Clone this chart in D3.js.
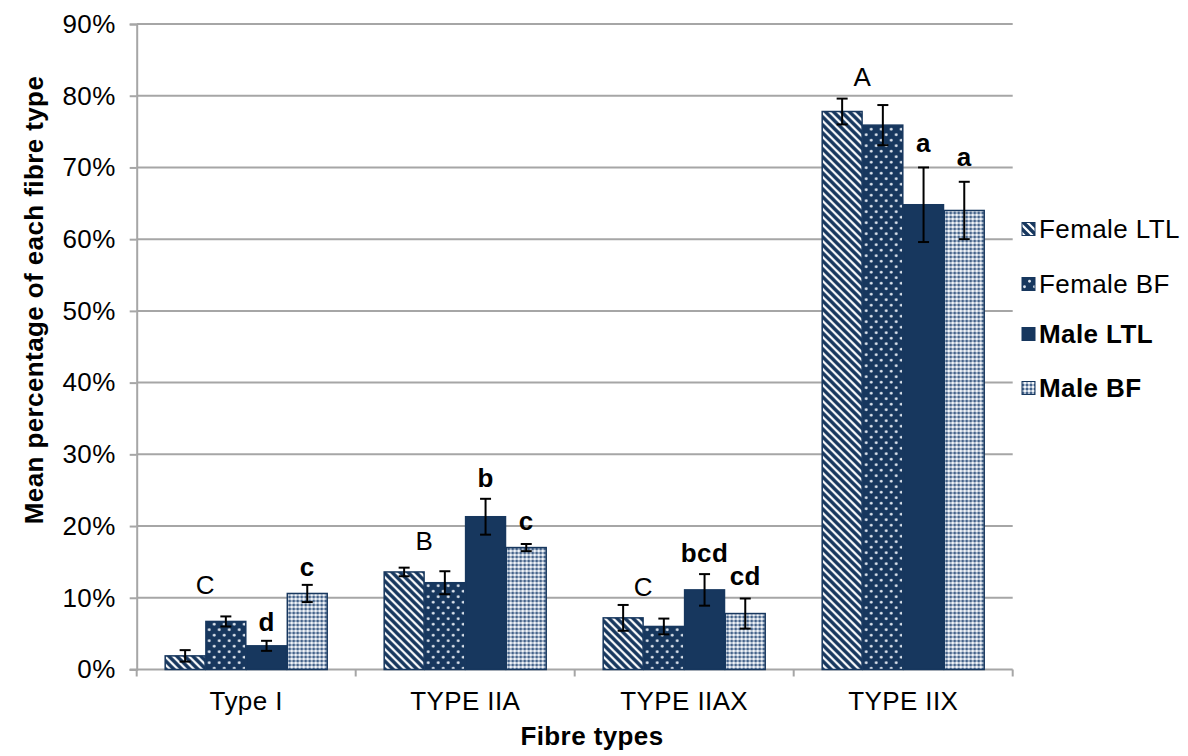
<!DOCTYPE html>
<html>
<head>
<meta charset="utf-8">
<script src="https://cdn.jsdelivr.net/npm/d3@7"></script>
<style>
  html, body { margin: 0; padding: 0; background: #fff; }
  svg { display: block; font-family: "Liberation Sans", Arial, sans-serif; }
  svg text { letter-spacing: 0.4px; }
</style>
</head>
<body>
<svg id="chart" width="1188" height="756"></svg>
<script>
// Fibre type composition (mean % and error) per group
const categories = ["Type I", "TYPE IIA", "TYPE IIAX", "TYPE IIX"];
const seriesNames = ["Female LTL", "Female BF", "Male LTL", "Male BF"];

const femaleLTL    = [1.9, 13.6, 7.2, 77.8];
const femaleLTLErr = [0.8, 0.6, 1.8, 1.8];
const femaleBF     = [6.7, 12.1, 6.0, 75.9];
const femaleBFErr  = [0.7, 1.6, 1.1, 2.8];
const maleLTL      = [3.3, 21.3, 11.1, 64.8];
const maleLTLErr   = [0.7, 2.5, 2.2, 5.2];
const maleBF       = [10.6, 17.0, 7.8, 64.0];
const maleBFErr    = [1.2, 0.5, 2.1, 4.0];

// Significance letters: females (one per category), males (one per bar)
const femaleLetters = ["C", "B", "C", "A"];
const femaleLetterLevel = [10.5, 16.6, 10.25, 81.4];
const maleLTLLetters = ["d", "b", "bcd", "a"];
const maleLTLLetterLevel = [5.3, 25.5, 15.0, 72.2];
const maleBFLetters = ["c", "c", "cd", "a"];
const maleBFLetterLevel = [13.0, 19.45, 11.8, 70.2];

const yTicks = [0, 10, 20, 30, 40, 50, 60, 70, 80, 90];

const seriesValues = [femaleLTL, femaleBF, maleLTL, maleBF];
const seriesErrors = [femaleLTLErr, femaleBFErr, maleLTLErr, maleBFErr];

const navy = "#17375e";
const gridColor = "#a6a6a6";
const fontSize = 26;

const svg = d3.select("#chart");
const defs = svg.append("defs");

// Fill patterns
const pStripe = defs.append("pattern").attr("id", "pat-stripe")
  .attr("patternUnits", "userSpaceOnUse").attr("width", 8).attr("height", 8);
pStripe.append("rect").attr("width", 8).attr("height", 8).attr("fill", "#ffffff");
pStripe.append("path")
  .attr("d", "M-2,2 L2,-2 M0,0 L8,8 M6,10 L10,6 M-4,4 L4,12 M4,-4 L12,4")
  .attr("stroke", navy).attr("stroke-width", 3.4).attr("fill", "none");

const pDots = defs.append("pattern").attr("id", "pat-dots")
  .attr("patternUnits", "userSpaceOnUse").attr("width", 10).attr("height", 11);
pDots.append("rect").attr("width", 10).attr("height", 11).attr("fill", navy);
pDots.append("circle").attr("cx", 2.5).attr("cy", 2.75).attr("r", 1.4).attr("fill", "#dfe6ef");
pDots.append("circle").attr("cx", 7.5).attr("cy", 8.25).attr("r", 1.4).attr("fill", "#dfe6ef");

const pCheck = defs.append("pattern").attr("id", "pat-check")
  .attr("patternUnits", "userSpaceOnUse").attr("width", 4).attr("height", 4);
pCheck.append("rect").attr("width", 4).attr("height", 4).attr("fill", "#a9b8cb");
pCheck.append("rect").attr("x", 0).attr("y", 0).attr("width", 2).attr("height", 2).attr("fill", "#45638a");
pCheck.append("rect").attr("x", 2).attr("y", 2).attr("width", 2).attr("height", 2).attr("fill", "#f2f5f9");

const fills = ["url(#pat-stripe)", "url(#pat-dots)", navy, "url(#pat-check)"];

// Scales
const plot = { left: 136.7, right: 1012.7, top: 24, bottom: 669.5 };
const y = d3.scaleLinear().domain([0, 90]).range([plot.bottom, plot.top]);
const x0 = d3.scaleBand().domain(categories).range([plot.left, plot.right]).padding(0);
const x1 = d3.scaleBand().domain(seriesNames).range([0, x0.bandwidth()])
  .paddingInner(0.02).paddingOuter(0.7);

// Gridlines
svg.append("g").selectAll("line").data(yTicks.filter(d => d > 0)).join("line")
  .attr("x1", plot.left).attr("x2", plot.right)
  .attr("y1", d => y(d)).attr("y2", d => y(d))
  .attr("stroke", gridColor).attr("stroke-width", 2);

// Y axis
const yAxis = d3.axisLeft(y).tickValues(yTicks).tickSize(7).tickPadding(14)
  .tickFormat(d => d + "%");
const gy = svg.append("g").attr("transform", `translate(${plot.left},0)`).call(yAxis);
gy.select(".domain").attr("stroke", gridColor).attr("stroke-width", 2);
gy.selectAll(".tick line").attr("stroke", gridColor).attr("stroke-width", 2);
gy.selectAll(".tick text").attr("font-size", fontSize).attr("fill", "#000")
  .attr("font-family", "Liberation Sans, Arial, sans-serif");

// X axis (ticks at category boundaries)
const boundaries = categories.map(c => x0(c)).concat([plot.right]);
const gx = svg.append("g");
gx.append("line").attr("x1", plot.left - 7).attr("x2", plot.right)
  .attr("y1", plot.bottom).attr("y2", plot.bottom)
  .attr("stroke", gridColor).attr("stroke-width", 2);
gx.selectAll("line.tk").data(boundaries).join("line").attr("class", "tk")
  .attr("x1", d => d).attr("x2", d => d)
  .attr("y1", plot.bottom).attr("y2", plot.bottom + 7)
  .attr("stroke", gridColor).attr("stroke-width", 2);
gx.selectAll("text").data(categories).join("text")
  .attr("x", d => x0(d) + x0.bandwidth() / 2).attr("y", 710)
  .attr("text-anchor", "middle").attr("font-size", fontSize).attr("fill", "#000")
  .text(d => d);

// Bars
const groups = svg.append("g").selectAll("g").data(categories).join("g")
  .attr("transform", d => `translate(${x0(d)},0)`);

groups.each(function(cat, ci) {
  const g = d3.select(this);
  seriesNames.forEach((s, si) => {
    const v = seriesValues[si][ci];
    g.append("rect")
      .attr("x", x1(s)).attr("width", x1.bandwidth())
      .attr("y", y(v)).attr("height", y(0) - y(v))
      .attr("fill", fills[si]).attr("stroke", navy).attr("stroke-width", 1.5);
  });
  // Error bars
  seriesNames.forEach((s, si) => {
    const v = seriesValues[si][ci], e = seriesErrors[si][ci];
    const cx = x1(s) + x1.bandwidth() / 2;
    const eg = g.append("g").attr("stroke", "#000").attr("stroke-width", 2);
    eg.append("line").attr("x1", cx).attr("x2", cx).attr("y1", y(v + e)).attr("y2", y(v - e));
    eg.append("line").attr("x1", cx - 5.5).attr("x2", cx + 5.5).attr("y1", y(v + e)).attr("y2", y(v + e));
    eg.append("line").attr("x1", cx - 5.5).attr("x2", cx + 5.5).attr("y1", y(v - e)).attr("y2", y(v - e));
  });
  // Letters
  g.append("text")
    .attr("x", x1("Female BF") - 0.5).attr("y", y(femaleLetterLevel[ci]))
    .attr("text-anchor", "middle").attr("font-size", fontSize).attr("fill", "#000")
    .text(femaleLetters[ci]);
  g.append("text")
    .attr("x", x1("Male LTL") + x1.bandwidth() / 2).attr("y", y(maleLTLLetterLevel[ci]))
    .attr("text-anchor", "middle").attr("font-size", fontSize).attr("font-weight", "bold").attr("fill", "#000")
    .text(maleLTLLetters[ci]);
  g.append("text")
    .attr("x", x1("Male BF") + x1.bandwidth() / 2).attr("y", y(maleBFLetterLevel[ci]))
    .attr("text-anchor", "middle").attr("font-size", fontSize).attr("font-weight", "bold").attr("fill", "#000")
    .text(maleBFLetters[ci]);
});

// Axis titles
svg.append("text").attr("x", 592).attr("y", 745)
  .attr("text-anchor", "middle").attr("font-size", fontSize).attr("font-weight", "bold")
  .text("Fibre types");
svg.append("text").attr("transform", "translate(43,300) rotate(-90)")
  .attr("text-anchor", "middle").attr("font-size", fontSize).attr("font-weight", "bold")
  .text("Mean percentage of each fibre type");

// Legend
const legendRowY = [229, 284, 334, 388];
const legend = svg.append("g").selectAll("g").data(seriesNames).join("g")
  .attr("transform", (d, i) => `translate(1022,${legendRowY[i]})`);
legend.append("rect").attr("x", 0).attr("y", -6.5).attr("width", 13).attr("height", 13)
  .attr("fill", (d, i) => fills[i]).attr("stroke", navy).attr("stroke-width", 1);
legend.append("text").attr("x", 17).attr("y", 9)
  .attr("font-size", fontSize).attr("fill", "#000")
  .attr("font-weight", (d, i) => i >= 2 ? "bold" : "normal")
  .text(d => d);
</script>
</body>
</html>
